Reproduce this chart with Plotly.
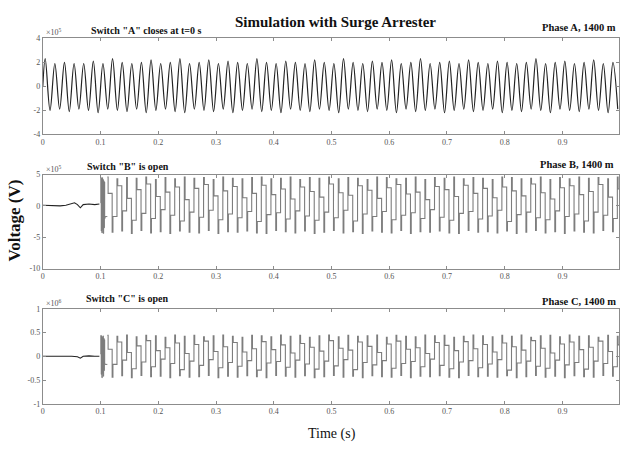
import plotly.graph_objects as go

W, H = 620, 451

# ---------------- data (scaled units: A,B in 1e5 V, C in 1e6 V) ----------------
PERIOD = 1 / 60  # s, 60 Hz system

# Phase A: peak / trough values per cycle (x1e5 V)
A_peaks = [2.3, 1.9, 2.0, 1.9, 1.9, 2.1, 1.9, 2.3, 2.0, 1.9,
           2.0, 2.2, 1.9, 2.0, 2.3, 1.9, 2.0, 2.2, 1.9, 2.1,
           2.0, 1.9, 2.3, 2.0, 1.9, 2.1, 2.0, 1.9, 2.2, 2.0,
           1.9, 2.3, 2.0, 1.9, 2.1, 2.0, 2.2, 1.9, 2.0, 2.3,
           1.9, 2.0, 2.1, 1.9, 2.2, 2.0, 1.9, 2.1, 2.0, 1.9,
           2.0, 2.3, 1.9, 2.0, 2.1, 1.9, 2.0, 2.2, 1.9, 2.0]
A_troughs = [-2.0, -1.9, -2.1, -1.9, -2.0, -2.2, -1.9, -2.0, -2.1, -1.9,
             -2.2, -2.0, -1.9, -2.1, -2.2, -1.9, -2.0, -2.1, -1.9, -2.2,
             -2.0, -1.9, -2.1, -2.0, -2.2, -1.9, -2.0, -2.1, -1.9, -2.0,
             -2.2, -1.9, -2.0, -2.1, -1.9, -2.0, -2.2, -1.9, -2.1, -2.0,
             -1.9, -2.2, -2.0, -1.9, -2.1, -2.0, -1.9, -2.2, -2.0, -2.1,
             -1.9, -2.0, -2.2, -1.9, -2.0, -2.1, -1.9, -2.0, -2.2, -1.9]

# Phase B (x1e5 V)
B_pre_t = [0.0, 0.01, 0.02, 0.03, 0.04, 0.05, 0.055, 0.06, 0.065, 0.07, 0.08, 0.09, 0.098]
B_pre_v = [0.1, 0.05, 0.1, 0.0, 0.1, 0.3, 0.5, 0.2, -0.3, 0.2, 0.3, 0.2, 0.3]
B_burst_v = [0.5, 4.5, -4.0, 4.4, -4.3, 4.5, -3.8, 4.2, -4.4, 4.0, -3.5, 3.8, -2.0, -1.7]
B_spike_hi = [4.6, 4.3, 4.5, 4.4, 4.6, 4.2, 4.5, 4.3, 4.6, 4.4, 4.5, 4.2, 4.6, 4.4, 4.3, 4.5, 4.6, 4.3,
              4.4, 4.6, 4.2, 4.5, 4.4, 4.6, 4.3, 4.5, 4.4, 4.2, 4.6, 4.5, 4.3, 4.4, 4.6, 4.2, 4.5, 4.4,
              4.6, 4.3, 4.5, 4.4, 4.2, 4.6, 4.5, 4.3, 4.4, 4.6, 4.2, 4.5, 4.3, 4.6, 4.4, 4.5, 4.3, 4.6]
B_hold_hi = [2.0, 3.2, 1.2, 2.6, 3.5, 1.5, 2.2, 3.0, 1.0, 2.8, 3.4, 1.6, 2.4, 3.1, 1.3, 2.0, 3.3, 1.8,
             2.7, 1.1, 3.0, 2.3, 1.4, 3.5, 2.1, 1.7, 3.2, 2.5, 1.2, 2.9, 3.4, 1.9, 2.2, 1.0, 3.1, 2.6,
             1.5, 3.3, 2.0, 2.8, 1.3, 3.0, 2.4, 1.6, 3.5, 2.1, 1.1, 2.9, 3.2, 1.8, 2.3, 3.4, 1.4, 2.7]
B_spike_lo = [-4.2, -4.0, -4.4, -3.9, -4.3, -4.1, -4.4, -4.0, -4.2, -4.3, -3.9, -4.4, -4.1, -4.2, -4.0, -4.3, -4.4, -3.9,
              -4.1, -4.3, -4.0, -4.4, -4.2, -3.9, -4.3, -4.1, -4.4, -4.0, -4.2, -4.3, -3.9, -4.4, -4.1, -4.2, -4.0, -4.3,
              -4.4, -3.9, -4.2, -4.1, -4.3, -4.0, -4.4, -4.2, -3.9, -4.3, -4.1, -4.4, -4.0, -4.2, -4.3, -3.9, -4.1, -4.4]
B_hold_lo = [-1.7, -0.8, -2.3, -1.2, -2.0, -0.6, -1.5, -2.4, -1.0, -1.8, -0.7, -2.2, -1.3, -1.9, -0.9, -2.5, -1.4, -1.1,
             -2.1, -0.8, -1.6, -2.3, -1.0, -1.9, -0.7, -2.4, -1.3, -1.7, -0.9, -2.2, -1.5, -1.1, -2.0, -0.6, -1.8, -2.3,
             -1.2, -0.9, -2.1, -1.6, -0.7, -2.5, -1.4, -1.0, -1.9, -2.2, -0.8, -1.7, -1.3, -2.4, -1.0, -1.5, -2.0, -0.9]

# Phase C (x1e6 V)
C_pre_t = [0.0, 0.01, 0.02, 0.03, 0.04, 0.05, 0.06, 0.065, 0.07, 0.08, 0.09, 0.098]
C_pre_v = [0.0, 0.0, 0.01, 0.0, 0.0, 0.0, -0.01, -0.04, 0.0, 0.01, 0.0, 0.0]
C_burst_v = [0.05, 0.44, -0.38, 0.42, -0.45, 0.40, -0.36, 0.43, -0.42, 0.38, -0.30, 0.35, -0.15, -0.17]
C_spike_hi = [0.44, 0.42, 0.45, 0.41, 0.44, 0.43, 0.40, 0.45, 0.42, 0.44, 0.41, 0.43, 0.45, 0.42, 0.40, 0.44, 0.43, 0.41,
              0.45, 0.42, 0.44, 0.40, 0.43, 0.45, 0.41, 0.44, 0.42, 0.43, 0.45, 0.40, 0.44, 0.42, 0.41, 0.45, 0.43, 0.44,
              0.40, 0.42, 0.45, 0.43, 0.41, 0.44, 0.42, 0.45, 0.40, 0.43, 0.44, 0.41, 0.45, 0.42, 0.43, 0.40, 0.44, 0.42]
C_hold_hi = [0.15, 0.30, 0.08, 0.22, 0.33, 0.12, 0.18, 0.28, 0.06, 0.25, 0.32, 0.10, 0.20, 0.29, 0.09, 0.16, 0.31, 0.14,
             0.24, 0.07, 0.27, 0.19, 0.11, 0.33, 0.17, 0.13, 0.30, 0.21, 0.08, 0.26, 0.32, 0.15, 0.18, 0.06, 0.29, 0.23,
             0.12, 0.31, 0.16, 0.25, 0.09, 0.28, 0.20, 0.13, 0.33, 0.17, 0.07, 0.26, 0.30, 0.14, 0.19, 0.32, 0.10, 0.24]
C_spike_lo = [-0.44, -0.41, -0.45, -0.40, -0.43, -0.42, -0.45, -0.41, -0.44, -0.43, -0.40, -0.45, -0.42, -0.44, -0.41, -0.43, -0.45, -0.40,
              -0.42, -0.44, -0.41, -0.45, -0.43, -0.40, -0.44, -0.42, -0.45, -0.41, -0.43, -0.44, -0.40, -0.45, -0.42, -0.43, -0.41, -0.44,
              -0.45, -0.40, -0.43, -0.42, -0.44, -0.41, -0.45, -0.43, -0.40, -0.44, -0.42, -0.45, -0.41, -0.43, -0.44, -0.40, -0.42, -0.45]
C_hold_lo = [-0.17, -0.08, -0.26, -0.12, -0.22, -0.06, -0.15, -0.28, -0.10, -0.19, -0.07, -0.24, -0.13, -0.21, -0.09, -0.29, -0.14, -0.11,
             -0.23, -0.08, -0.16, -0.27, -0.10, -0.20, -0.07, -0.28, -0.13, -0.18, -0.09, -0.25, -0.15, -0.11, -0.22, -0.06, -0.19, -0.26,
             -0.12, -0.09, -0.24, -0.16, -0.07, -0.29, -0.14, -0.10, -0.21, -0.25, -0.08, -0.18, -0.13, -0.27, -0.10, -0.15, -0.22, -0.09]

X_TICKS = [0, 0.1, 0.2, 0.3, 0.4, 0.5, 0.6, 0.7, 0.8, 0.9]
X_TICKTEXT = ["0", "0.1", "0.2", "0.3", "0.4", "0.5", "0.6", "0.7", "0.8", "0.9"]
A_YTICKS = [-4, -2, 0, 2, 4]
B_YTICKS = [-10, -5, 0, 5]
C_YTICKS = [-1, -0.5, 0, 0.5, 1]
C_YTICKTEXT = ["-1", "-0.5", "0", "0.5", "1"]

# ---------------- build series ----------------
def sine_series(peaks, troughs):
    t, v = [0.0], [0.0]
    for k, (p, q) in enumerate(zip(peaks, troughs)):
        t += [(k + 0.25) * PERIOD, (k + 0.75) * PERIOD]
        v += [p, q]
    return t, v

def burst_series(vals, t0=0.1, dt=0.0006):
    return [t0 + i * dt for i in range(len(vals))], list(vals)

def square_series(sh, hh, sl, hl, t0):
    t, v = [], []
    for k in range(len(sh)):
        c = t0 + k * PERIOD
        t += [c, c + 0.08 * PERIOD, c + 0.5 * PERIOD, c + 0.58 * PERIOD]
        v += [sh[k], hh[k], sl[k], hl[k]]
    return t, v

At, Av = sine_series(A_peaks, A_troughs)
Bbt, Bbv = burst_series(B_burst_v)
Cbt, Cbv = burst_series(C_burst_v)
t_start = Bbt[-1] + 0.004
Bst, Bsv = square_series(B_spike_hi, B_hold_hi, B_spike_lo, B_hold_lo, t_start)
Cst, Csv = square_series(C_spike_hi, C_hold_hi, C_spike_lo, C_hold_lo, t_start)
Bbt.append(t_start); Bbv.append(B_hold_lo[0])
Cbt.append(t_start); Cbv.append(C_hold_lo[0])

fig = go.Figure()
dark = "#222222"
grey = "#7d7d7d"
fig.add_trace(go.Scatter(x=At, y=Av, mode="lines", line=dict(color=dark, width=1.2, shape="spline"),
                         xaxis="x", yaxis="y", showlegend=False))
fig.add_trace(go.Scatter(x=B_pre_t, y=B_pre_v, mode="lines", line=dict(color=dark, width=1.1),
                         xaxis="x2", yaxis="y2", showlegend=False))
fig.add_trace(go.Scatter(x=Bbt, y=Bbv, mode="lines", line=dict(color=grey, width=1, shape="hv"),
                         xaxis="x2", yaxis="y2", showlegend=False))
fig.add_trace(go.Scatter(x=Bst, y=Bsv, mode="lines", line=dict(color=grey, width=1.1, shape="hv"),
                         xaxis="x2", yaxis="y2", showlegend=False))
fig.add_trace(go.Scatter(x=C_pre_t, y=C_pre_v, mode="lines", line=dict(color=dark, width=1.1),
                         xaxis="x3", yaxis="y3", showlegend=False))
fig.add_trace(go.Scatter(x=Cbt, y=Cbv, mode="lines", line=dict(color=grey, width=1, shape="hv"),
                         xaxis="x3", yaxis="y3", showlegend=False))
fig.add_trace(go.Scatter(x=Cst, y=Csv, mode="lines", line=dict(color=grey, width=1.1, shape="hv"),
                         xaxis="x3", yaxis="y3", showlegend=False))

# ---------------- layout ----------------
def py(px):
    return 1 - px / H

x_dom = [41 / W, 1.0]
tickfont = dict(family="Liberation Serif", size=8, color="#555555")
axis_common = dict(showline=True, linecolor="#8c8c8c", linewidth=1, mirror="allticks",
                   ticks="inside", ticklen=3, tickcolor="#8c8c8c", showgrid=False,
                   zeroline=False, tickfont=tickfont)

layout = dict(width=W, height=H, margin=dict(l=0, r=0, t=0, b=0),
              paper_bgcolor="white", plot_bgcolor="white", showlegend=False)
doms = {1: [py(133), py(35)], 2: [py(270), py(174)], 3: [py(408), py(311)]}
yranges = {1: [-4, 4], 2: [-10, 5], 3: [-1, 1]}
yticks = {1: (A_YTICKS, [str(v) for v in A_YTICKS]),
          2: (B_YTICKS, [str(v) for v in B_YTICKS]),
          3: (C_YTICKS, C_YTICKTEXT)}
for i in (1, 2, 3):
    sx = "" if i == 1 else str(i)
    layout["xaxis" + sx] = dict(axis_common, domain=x_dom, range=[0, 0.998], anchor="y" + sx,
                                tickvals=X_TICKS, ticktext=X_TICKTEXT)
    layout["yaxis" + sx] = dict(axis_common, domain=doms[i], range=yranges[i], anchor="x" + sx,
                                tickvals=yticks[i][0], ticktext=yticks[i][1])
fig.update_layout(**layout)

serif = "Liberation Serif"
def ann(text, xpx, ypx, size, bold=False, xanchor="center", color="#111111", angle=0):
    fig.add_annotation(text=("<b>%s</b>" % text) if bold else text, x=xpx / W, y=py(ypx),
                       xref="paper", yref="paper", xanchor=xanchor, yanchor="middle",
                       showarrow=False, textangle=angle, font=dict(family=serif, size=size, color=color))

ann("Simulation with Surge Arrester", 335, 18, 15, bold=True)
ann('Switch "A" closes at t=0 s', 145, 27, 10, bold=True)
ann("Phase A, 1400 m", 619, 24, 10.5, bold=True, xanchor="right")
ann('Switch "B" is open', 127, 166, 10, bold=True)
ann("Phase B, 1400 m", 617, 164, 10.5, bold=True, xanchor="right")
ann('Switch "C" is open', 126, 300, 10, bold=True)
ann("Phase C, 1400 m", 619, 304, 10.5, bold=True, xanchor="right")
ann("×10<sup>5</sup>", 42, 29, 8, xanchor="left", color="#555555")
ann("×10<sup>5</sup>", 42, 168, 8, xanchor="left", color="#555555")
ann("×10<sup>6</sup>", 42, 305, 8, xanchor="left", color="#555555")
ann("Voltage (V)", 13, 221, 17, bold=True, angle=-90)
ann("Time (s)", 332, 439, 14)

fig.write_html("out.html")
